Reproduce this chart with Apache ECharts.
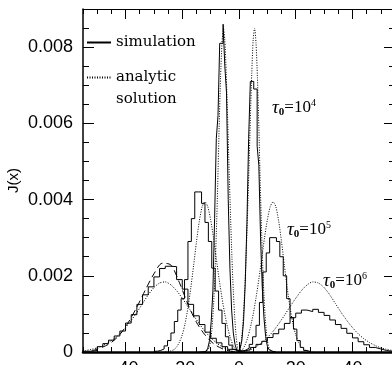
<!DOCTYPE html>
<html>
<head>
<meta charset="utf-8">
<script src="https://cdn.jsdelivr.net/npm/echarts@6/dist/echarts.min.js"></script>
<style>
  html, body { margin: 0; padding: 0; background: #fff; }
  #chart { width: 392px; height: 365px; }
</style>
</head>
<body>
<div id="chart"></div>
<script>
// Emergent spectrum J(x) of a static slab for three line-centre optical depths.

// Tick positions and labels
const xMajorTicks = [-40, -20, 0, 20, 40];
const xMinorTicks = [-55, -50, -45, -35, -30, -25, -15, -10, -5, 5, 10, 15, 25, 30, 35, 45, 50, 55];
const yMajorTicks = [0, 0.002, 0.004, 0.006, 0.008];
const yMinorTicks = [0.0005, 0.001, 0.0015, 0.0025, 0.003, 0.0035, 0.0045, 0.005, 0.0055,
                     0.0065, 0.007, 0.0075, 0.0085];
const tauExponents = ['4', '5', '6'];

// Monte Carlo histograms: first bin edge, bin width, J per bin
const sim4Edge0 = -14, sim4Width = 0.6;
const sim4 = [0, 0, 0.00001, 0.00002, 0.00004, 0.0001, 0.0003, 0.0008, 0.0016, 0.0035,
              0.0056, 0.0062, 0.0081, 0.0081, 0.0086, 0.0075, 0.0068, 0.0040, 0.0022, 0.0011,
              0.0005, 0.0002, 0.00005, 0.00002, 0.0001, 0.0003, 0.0008, 0.0018, 0.0034, 0.0056,
              0.0071, 0.0071, 0.0069, 0.0069, 0.0054, 0.0049, 0.0030, 0.0017, 0.0009, 0.0004,
              0.00015, 0.00006, 0.00002, 0.00001, 0];

const sim5Edge0 = -30, sim5Width = 1.2;
const sim5 = [0.00002, 0.00004, 0.00008, 0.00016, 0.0003, 0.0005, 0.0008, 0.0011, 0.0014, 0.0019,
              0.0029, 0.0035, 0.0042, 0.0042, 0.0039, 0.0034, 0.0029, 0.0022, 0.0016, 0.0011,
              0.00075, 0.0004, 0.00018, 0.00007, 0.00002, 0.00002, 0.00005, 0.0001, 0.0002, 0.0004,
              0.0007, 0.0013, 0.0021, 0.0026, 0.0030, 0.0030, 0.0029, 0.0025, 0.0020, 0.0014,
              0.0009, 0.0006, 0.0003, 0.00012, 0.00004, 0.00001];

const sim6Edge0 = -56, sim6Width = 2;
const sim6 = [0.00002, 0.00002, 0.00004, 0.00014, 0.00022, 0.00031, 0.00042, 0.00055, 0.00076, 0.00098,
              0.00125, 0.0015, 0.00171, 0.00197, 0.00219, 0.00225, 0.00224, 0.0019, 0.00165, 0.00125,
              0.00095, 0.00072, 0.00052, 0.00036, 0.00024, 0.00014, 0.00007, 0.00003, 0.00003, 0.00006,
              0.00012, 0.0002, 0.00028, 0.00038, 0.00048, 0.0006, 0.00075, 0.0009, 0.00102, 0.0011,
              0.00106, 0.00112, 0.00104, 0.00096, 0.00084, 0.00072, 0.00062, 0.00049, 0.00037, 0.00027,
              0.00019, 0.00012, 0.00008, 0.00004, 0.00002, 0.00001];

// Analytic solution
const ana4X = [-13, -12, -11, -10.5, -10, -9.5, -9, -8.5, -8, -7.5, -7, -6.5, -6, -5.5, -5, -4.5, -4,
               -3.5, -3, -2.5, -2, -1.5, -1, -0.5, 0, 0.5, 1, 1.5, 2, 2.5, 3, 3.5, 4, 4.5, 5, 5.5,
               6, 6.5, 7, 7.5, 8, 8.5, 9, 9.5, 10, 10.5, 11, 12, 13];
const ana4J = [0, 0.00001, 0.00006, 0.00013, 0.0003, 0.00065, 0.0012, 0.002, 0.0031, 0.0044, 0.0059,
               0.0072, 0.0081, 0.0085, 0.0082, 0.0073, 0.0061, 0.0048, 0.0036, 0.0025, 0.0016, 0.0009,
               0.0004, 0.0001, 0, 0.0001, 0.0004, 0.0009, 0.0016, 0.0025, 0.0036, 0.0048, 0.0061,
               0.0073, 0.0082, 0.0085, 0.0081, 0.0072, 0.0059, 0.0044, 0.0031, 0.002, 0.0012, 0.00065,
               0.0003, 0.00013, 0.00006, 0.00001, 0];

const ana5X = [-26, -25, -24, -23, -22, -21, -20, -19, -18, -17, -16, -15, -14, -13, -12, -11, -10,
               -9, -8, -7, -6, -5, -4, -3, -2, -1, 0, 1, 2, 3, 4, 5, 6, 7, 8, 9, 10, 11, 12, 13, 14,
               15, 16, 17, 18, 19, 20, 21, 22, 23, 24, 25, 26];
const ana5J = [0, 0.00001, 0.00003, 0.00006, 0.00013, 0.00026, 0.00045, 0.00075, 0.00116, 0.00168,
               0.00227, 0.00289, 0.00343, 0.00381, 0.00394, 0.00381, 0.00347, 0.003, 0.00245, 0.00191,
               0.00142, 0.00099, 0.00064, 0.00036, 0.00016, 0.00004, 0, 0.00004, 0.00016, 0.00036,
               0.00064, 0.00099, 0.00142, 0.00191, 0.00245, 0.003, 0.00347, 0.00381, 0.00394, 0.00381,
               0.00343, 0.00289, 0.00227, 0.00168, 0.00116, 0.00075, 0.00045, 0.00026, 0.00013,
               0.00006, 0.00003, 0.00001, 0];

const ana6X = [-56, -54, -52, -50, -48, -46, -44, -42, -40, -38, -36, -34, -32, -30, -28, -26, -24,
               -22, -20, -18, -16, -14, -12, -10, -8, -6, -4, -2, 0, 2, 4, 6, 8, 10, 12, 14, 16, 18,
               20, 22, 24, 26, 28, 30, 32, 34, 36, 38, 40, 42, 44, 46, 48, 50, 52, 54, 56];
const ana6J = [0.00002, 0.00004, 0.00007, 0.00011, 0.00017, 0.00025, 0.00035, 0.00048, 0.00064,
               0.00083, 0.00104, 0.00127, 0.0015, 0.00169, 0.00181, 0.00184, 0.00176, 0.00161, 0.00141,
               0.00119, 0.00096, 0.00074, 0.00054, 0.00038, 0.00024, 0.00014, 0.00006, 0.000015, 0,
               0.000015, 0.00006, 0.00014, 0.00024, 0.00038, 0.00054, 0.00074, 0.00096, 0.00119,
               0.00141, 0.00161, 0.00176, 0.00184, 0.00181, 0.00169, 0.0015, 0.00127, 0.00104, 0.00083,
               0.00064, 0.00048, 0.00035, 0.00025, 0.00017, 0.00011, 0.00007, 0.00004, 0.00002];

// Smooth curve through the blue peak of the largest optical depth
const fit6X = [-52, -48, -45, -42, -39, -36, -33, -30, -27, -24, -21, -18, -15, -12, -9, -6, -3, 0];
const fit6J = [0.00003, 0.00013, 0.00025, 0.00046, 0.00078, 0.00118, 0.00163, 0.00205, 0.00233,
               0.00228, 0.00182, 0.00125, 0.00078, 0.00045, 0.00022, 0.00009, 0.00002, 0];

function stepPoints(edge0, width, values) {
  const pts = values.map((v, i) => [edge0 + i * width, v]);
  pts.push([edge0 + values.length * width, values[values.length - 1]]);
  return pts;
}
function pairs(xs, ys) { return xs.map((x, i) => [x, ys[i]]); }

const INK = '#000';
const SANS = 'Liberation Sans, Arial, sans-serif';
const SERIF = 'DejaVu Serif, serif';
const TIMES = 'Liberation Serif, Times New Roman, serif';

function xAxis(position, ticks, len, lineWidth, labels) {
  return {
    type: 'value', min: -55, max: 55, position: position,
    axisLine: { show: lineWidth > 0, onZero: false, lineStyle: { color: INK, width: lineWidth } },
    axisTick: { show: true, inside: true, length: len, customValues: ticks,
                lineStyle: { color: INK, width: 1 } },
    axisLabel: labels ? { show: true, customValues: xMajorTicks, margin: 8, color: INK,
                          fontFamily: SANS, fontSize: 18 } : { show: false },
    splitLine: { show: false }
  };
}
function yAxis(position, ticks, len, lineWidth, labels) {
  const ax = {
    type: 'value', min: 0, max: 0.009, position: position,
    axisLine: { show: lineWidth > 0, onZero: false, lineStyle: { color: INK, width: lineWidth } },
    axisTick: { show: true, inside: true, length: len, customValues: ticks,
                lineStyle: { color: INK, width: 1 } },
    axisLabel: labels ? { show: true, customValues: yMajorTicks, margin: 10, color: INK,
                          fontFamily: SANS, fontSize: 18,
                          formatter: v => (v === 0 ? '0' : v.toFixed(3)) } : { show: false },
    splitLine: { show: false }
  };
  if (labels) {
    ax.name = 'J(x)';
    ax.nameLocation = 'middle';
    ax.nameGap = 62;
    ax.nameRotate = 90;
    ax.nameMoveOverlap = false;
    ax.nameTextStyle = { color: INK, fontFamily: SANS, fontSize: 15 };
  }
  return ax;
}

const simStyle = { color: INK, width: 1 };
const anaStyle = { color: INK, width: 1, type: [1, 1.5] };

function simSeries(edge0, width, values) {
  return { type: 'line', name: 'simulation', data: stepPoints(edge0, width, values), step: 'end',
           symbol: 'none', showSymbol: false, color: INK, lineStyle: simStyle, z: 4, silent: true };
}
function anaSeries(xs, ys) {
  return { type: 'line', name: 'analytic solution', data: pairs(xs, ys), smooth: 0.25,
           symbol: 'none', showSymbol: false, color: INK, lineStyle: anaStyle, z: 3, silent: true };
}

const tauRich = {
  t: { fontFamily: TIMES, fontStyle: 'italic', fontSize: 19, lineHeight: 20, color: INK },
  s: { fontFamily: TIMES, fontWeight: 'bold', fontSize: 11, lineHeight: 12, verticalAlign: 'bottom',
       color: INK },
  e: { fontFamily: TIMES, fontSize: 17, lineHeight: 20, color: INK },
  p: { fontFamily: TIMES, fontSize: 10, lineHeight: 12, verticalAlign: 'top', color: INK }
};
function tauText(x, y, exp) {
  return { type: 'text', x: x, y: y, z: 10,
           style: { text: '{t|\u03c4}{s|0}{e|=10}{p|' + exp + '}', rich: tauRich,
                    align: 'left', verticalAlign: 'middle' } };
}

const chart = echarts.init(document.getElementById('chart'), null, { renderer: 'canvas' });
chart.setOption({
  animation: false,
  backgroundColor: '#fff',
  grid: { left: 83, right: -3, top: 9, bottom: 13, containLabel: false, outerBoundsMode: 'none' },
  xAxis: [
    xAxis('bottom', xMajorTicks, 10, 2.5, true),
    xAxis('bottom', xMinorTicks, 5, 0, false),
    xAxis('top', xMajorTicks, 10, 1, false),
    xAxis('top', xMinorTicks, 5, 0, false)
  ],
  yAxis: [
    yAxis('left', yMajorTicks, 11, 1.5, true),
    yAxis('left', yMinorTicks, 6, 0, false),
    yAxis('right', yMajorTicks, 11, 1, false),
    yAxis('right', yMinorTicks, 6, 0, false)
  ],
  legend: {
    data: ['simulation', 'analytic solution'],
    orient: 'vertical', left: 86, top: 26.5, padding: 0,
    itemWidth: 24, itemHeight: 10, itemGap: -19,
    selectedMode: false,
    itemStyle: { opacity: 0 },
    formatter: n => (n === 'simulation' ? n : '\u00a0\nanalytic\nsolution'),
    textStyle: { color: INK, fontFamily: SERIF, fontSize: 15, lineHeight: 22, padding: [0, 0, 10, 0] }
  },
  graphic: [
    tauText(272, 108, tauExponents[0]),
    tauText(287, 230, tauExponents[1]),
    tauText(323, 281, tauExponents[2])
  ],
  series: [
    anaSeries(ana4X, ana4J),
    anaSeries(ana5X, ana5J),
    anaSeries(ana6X, ana6J),
    { type: 'line', name: 'fit', data: pairs(fit6X, fit6J), smooth: 0.3, symbol: 'none',
      showSymbol: false, color: INK, lineStyle: { color: INK, width: 1, type: [7, 4] }, z: 3,
      silent: true },
    simSeries(sim4Edge0, sim4Width, sim4),
    simSeries(sim5Edge0, sim5Width, sim5),
    simSeries(sim6Edge0, sim6Width, sim6)
  ]
});
</script>
</body>
</html>
